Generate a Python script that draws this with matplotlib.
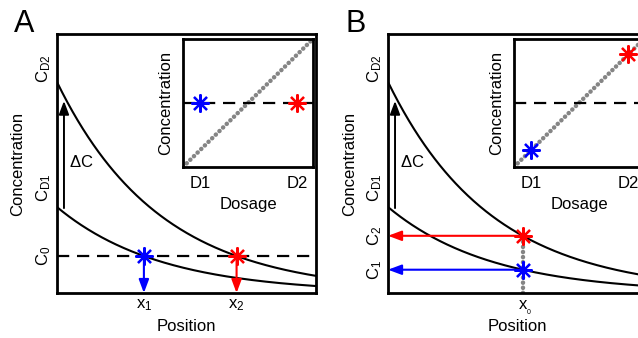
import numpy as np
import matplotlib.pyplot as plt
from matplotlib import transforms

plt.rcParams['font.family'] = ['Liberation Sans', 'DejaVu Sans']
plt.rcParams['mathtext.fontset'] = 'custom'
plt.rcParams['mathtext.rm'] = 'Liberation Sans'

# Concentration profiles C(x) = C_D * exp(-k x) for the two dosages
c_d1 = 0.332
c_d2 = 0.815
decay = 2.51
c_0 = 0.143          # threshold concentration (panel A)
x_0 = 0.52           # fixed position (panel B)

# inset: dosage axis
dose_ticks = [0.13, 0.88]
dose_labels = ['D1', 'D2']
inset_c0 = 0.5

BLUE = '#0000ff'
RED = '#ff0000'
GRAY = '#858585'
AST = (8, 2, 0)
DOTS = (0, (0.05, 1.1))
DOT_LW = 3.2

x = np.linspace(0, 1, 300)
low = c_d1 * np.exp(-decay * x)
high = c_d2 * np.exp(-decay * x)

x_1 = np.log(c_d1 / c_0) / decay
x_2 = np.log(c_d2 / c_0) / decay
c_1 = c_d1 * np.exp(-decay * x_0)
c_2 = c_d2 * np.exp(-decay * x_0)

fig = plt.figure(figsize=(6.38, 3.38), dpi=100)


def star(ax, px, py, color):
    ax.plot([px], [py], marker=AST, ms=13, mew=1.6, color=color)


def main_axes(left):
    ax = fig.add_axes([left, 0.1331, 0.406, 0.766])
    ax.set_xlim(0, 1)
    ax.set_ylim(0, 1)
    ax.set_xticks([])
    ax.set_yticks([])
    for s in ax.spines.values():
        s.set_linewidth(2.0)
    ax.plot(x, high, color='k', lw=1.5)
    ax.plot(x, low, color='k', lw=1.5)
    # delta C arrow
    ax.annotate('', xy=(0.027, 0.742), xytext=(0.027, 0.328),
                arrowprops=dict(arrowstyle='-|>,head_length=0.8,head_width=0.3',
                                color='k', lw=1.4, shrinkA=0, shrinkB=0))
    ax.text(0.045, 0.506, r'$\mathregular{\Delta}$C', fontsize=12, va='center', ha='left')
    ax.text(-0.15, 0.5, 'Concentration', rotation=90, fontsize=12,
            ha='center', va='center', transform=ax.transAxes)
    ax.text(0.5, -0.131, 'Position', fontsize=12, ha='center', va='center',
            transform=ax.transAxes)
    ylab = transforms.blended_transform_factory(ax.transAxes, ax.transData)
    ax.text(-0.016, c_d2 - 0.005, r'$\mathregular{C_{D2}}$', rotation=90, fontsize=12,
            ha='right', va='bottom', transform=ylab)
    ax.text(-0.016, c_d1 + 0.02, r'$\mathregular{C_{D1}}$', rotation=90, fontsize=12,
            ha='right', va='bottom', transform=ylab)
    return ax, ylab


def inset_axes(left):
    ax = fig.add_axes([left, 0.506, 0.2038, 0.3787])
    ax.set_xlim(0, 1)
    ax.set_ylim(0, 1)
    ax.set_xticks([])
    ax.set_yticks([])
    for s in ax.spines.values():
        s.set_linewidth(2.0)
    ax.plot([0, 1], [0, 1], color=GRAY, lw=DOT_LW, linestyle=DOTS,
            dash_capstyle='round')
    ax.axhline(inset_c0, color='k', lw=1.6, linestyle=(0, (5.5, 3.5)))
    for t, lab in zip(dose_ticks, dose_labels):
        ax.text(t, -0.133, lab, fontsize=12, ha='center', va='center',
                transform=ax.transAxes, clip_on=False)
    ax.text(0.5, -0.297, 'Dosage', fontsize=12, ha='center', va='center',
            transform=ax.transAxes)
    ax.text(-0.13, 0.5, 'Concentration', rotation=90, fontsize=12,
            ha='center', va='center', transform=ax.transAxes)
    return ax


def arrow(ax, start, end, color):
    ax.annotate('', xy=end, xytext=start,
                arrowprops=dict(arrowstyle='-|>,head_length=0.8,head_width=0.3',
                                color=color, lw=1.5, shrinkA=0, shrinkB=0))


# ---- panel A
axA, ylabA = main_axes(0.0893)
axA.axhline(c_0, color='k', lw=1.6, linestyle=(0, (5.5, 3.5)))
arrow(axA, (x_1, c_0), (x_1, 0.0), BLUE)
arrow(axA, (x_2, c_0), (x_2, 0.0), RED)
star(axA, x_1, c_0, BLUE)
star(axA, x_2, c_0, RED)
axA.text(-0.016, c_0, r'$\mathregular{C_0}$', rotation=90, fontsize=12,
         ha='right', va='center', transform=ylabA)
xlabA = transforms.blended_transform_factory(axA.transData, axA.transAxes)
axA.text(x_1, -0.015, r'$\mathregular{x_1}$', fontsize=12, ha='center', va='top',
         transform=xlabA)
axA.text(x_2, -0.015, r'$\mathregular{x_2}$', fontsize=12, ha='center', va='top',
         transform=xlabA)

inA = inset_axes(0.2868)
star(inA, dose_ticks[0], inset_c0, BLUE)
star(inA, dose_ticks[1], inset_c0, RED)

# ---- panel B
axB, ylabB = main_axes(0.6082)
axB.plot([x_0, x_0], [0, c_2], color=GRAY, lw=DOT_LW, linestyle=DOTS,
         dash_capstyle='round')
arrow(axB, (x_0, c_2), (0.0, c_2), RED)
arrow(axB, (x_0, c_1), (0.0, c_1), BLUE)
star(axB, x_0, c_2, RED)
star(axB, x_0, c_1, BLUE)
axB.text(-0.016, c_2, r'$\mathregular{C_2}$', rotation=90, fontsize=12,
         ha='right', va='center', transform=ylabB)
axB.text(-0.016, c_1, r'$\mathregular{C_1}$', rotation=90, fontsize=12,
         ha='right', va='center', transform=ylabB)
xlabB = transforms.blended_transform_factory(axB.transData, axB.transAxes)
axB.text(x_0, -0.015, 'x', fontsize=12, ha='center', va='top', transform=xlabB)
axB.text(x_0 + 0.022, -0.062, '0', fontsize=5, ha='center', va='top', transform=xlabB)

inB = inset_axes(0.8056)
star(inB, dose_ticks[0], dose_ticks[0], BLUE)
star(inB, dose_ticks[1], dose_ticks[1], RED)

fig.text(14 / 638, 1 - 32 / 338, 'A', fontsize=22, ha='left', va='baseline')
fig.text(345 / 638, 1 - 32 / 338, 'B', fontsize=22, ha='left', va='baseline')

fig.savefig('out.png', dpi=100)
